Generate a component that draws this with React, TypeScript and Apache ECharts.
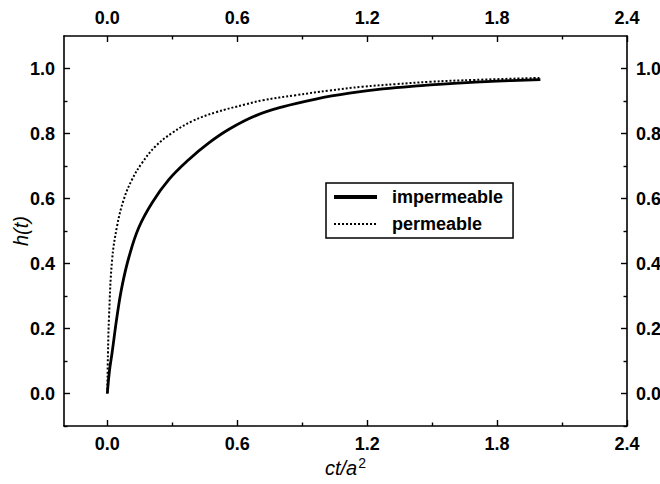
import React, { useEffect, useRef } from "react";
import * as echarts from "echarts";

const impermeableX = [0, 0.01, 0.022, 0.045, 0.068, 0.1, 0.145, 0.207, 0.284, 0.377, 0.469, 0.562, 0.686, 0.809, 0.963, 1.118, 1.272, 1.45, 1.6, 1.8, 2.0];
const impermeableH = [0, 0.07, 0.125, 0.238, 0.33, 0.42, 0.51, 0.587, 0.658, 0.72, 0.771, 0.813, 0.855, 0.882, 0.906, 0.924, 0.937, 0.947, 0.954, 0.961, 0.966];

const permeableX = [0, 0.003, 0.008, 0.022, 0.045, 0.076, 0.114, 0.161, 0.223, 0.3, 0.392, 0.5, 0.64, 0.716, 0.871, 1.025, 1.179, 1.334, 1.488, 1.7, 2.0];
const permeableH = [0, 0.12, 0.238, 0.41, 0.515, 0.597, 0.658, 0.71, 0.761, 0.802, 0.838, 0.865, 0.89, 0.902, 0.918, 0.932, 0.944, 0.952, 0.959, 0.965, 0.971];

const xMajorTicks = [0, 0.6, 1.2, 1.8, 2.4];
const xMinorTicks = [0.3, 0.9, 1.5, 2.1];
const yMajorTicks = [0, 0.2, 0.4, 0.6, 0.8, 1.0];
const yMinorTicks = [-0.1, 0.1, 0.3, 0.5, 0.7, 0.9];

const FONT = "'Liberation Sans', Arial, sans-serif";
const labelStyle = { fontFamily: FONT, fontWeight: "bold" as const, fontSize: 18, color: "#000" };

function makeX(position: "top" | "bottom", major: boolean, withName: boolean) {
  return {
    type: "value",
    position,
    min: -0.2,
    max: 2.4,
    name: withName ? "{i|ct/a}{s|2}" : "",
    nameLocation: "middle",
    nameGap: 30,
    nameMoveOverlap: false,
    nameTextStyle: {
      rich: {
        i: { fontFamily: FONT, fontStyle: "italic", fontSize: 20, color: "#000" },
        s: { fontFamily: FONT, fontSize: 14, color: "#000", verticalAlign: "bottom", padding: [0, 0, 10, 1] },
      },
    },
    axisLine: { show: major, onZero: false, lineStyle: { color: "#000", width: 1.6 } },
    axisTick: {
      show: true,
      inside: true,
      length: major ? 6 : 3.5,
      lineStyle: { color: "#000", width: 1.4 },
      customValues: major ? xMajorTicks : xMinorTicks,
    },
    axisLabel: {
      show: major,
      ...labelStyle,
      margin: 9,
      customValues: xMajorTicks,
      formatter: (v: number) => v.toFixed(1),
    },
    splitLine: { show: false },
  };
}

function makeY(position: "left" | "right", major: boolean, withName: boolean) {
  return {
    type: "value",
    position,
    min: -0.1,
    max: 1.1,
    name: withName ? "h(t)" : "",
    nameLocation: "middle",
    nameGap: 33,
    nameMoveOverlap: false,
    nameRotate: 90,
    nameTextStyle: { fontFamily: FONT, fontStyle: "italic", fontSize: 20, color: "#000" },
    axisLine: { show: major, onZero: false, lineStyle: { color: "#000", width: 1.6 } },
    axisTick: {
      show: true,
      inside: true,
      length: major ? 6 : 3.5,
      lineStyle: { color: "#000", width: 1.4 },
      customValues: major ? yMajorTicks : yMinorTicks,
    },
    axisLabel: {
      show: major,
      ...labelStyle,
      margin: 9,
      customValues: yMajorTicks,
      formatter: (v: number) => v.toFixed(1),
    },
    splitLine: { show: false },
  };
}

export default function App() {
  const ref = useRef<HTMLDivElement>(null);
  useEffect(() => {
    if (!ref.current) return;
    const chart = echarts.init(ref.current, null, { renderer: "svg" });
    chart.setOption({
      animation: false,
      backgroundColor: "#fff",
      grid: { left: 64, right: 33, top: 36, bottom: 58, containLabel: false, outerBoundsMode: "none" },
      legend: {
        data: [
          { name: "impermeable", lineStyle: { width: 4 } },
          { name: "permeable", lineStyle: { width: 2 } },
        ],
        orient: "vertical",
        left: 326,
        top: 183,
        borderColor: "#000",
        borderWidth: 1.5,
        padding: [5, 10, 5, 6],
        itemWidth: 43,
        itemHeight: 14,
        itemGap: 9,
        itemStyle: { opacity: 0 },
        textStyle: { ...labelStyle, padding: [0, 0, 0, 10] },
      },
      xAxis: [makeX("bottom", true, true), makeX("bottom", false, false), makeX("top", true, false), makeX("top", false, false)],
      yAxis: [makeY("left", true, true), makeY("left", false, false), makeY("right", true, false), makeY("right", false, false)],
      series: [
        {
          name: "impermeable",
          type: "line",
          xAxisIndex: 0,
          yAxisIndex: 0,
          symbol: "none",
          smooth: 0.4,
          lineStyle: { color: "#000", width: 2.8 },
          itemStyle: { color: "#000" },
          data: impermeableX.map((x, i) => [x, impermeableH[i]]),
        },
        {
          name: "permeable",
          type: "line",
          xAxisIndex: 0,
          yAxisIndex: 0,
          symbol: "none",
          smooth: 0.4,
          lineStyle: { color: "#000", width: 2, type: [2, 2] },
          itemStyle: { color: "#000" },
          data: permeableX.map((x, i) => [x, permeableH[i]]),
        },
      ],
    });
    return () => chart.dispose();
  }, []);
  return <div ref={ref} style={{ width: 660, height: 484, position: "absolute", left: 0, top: 0 }} />;
}
